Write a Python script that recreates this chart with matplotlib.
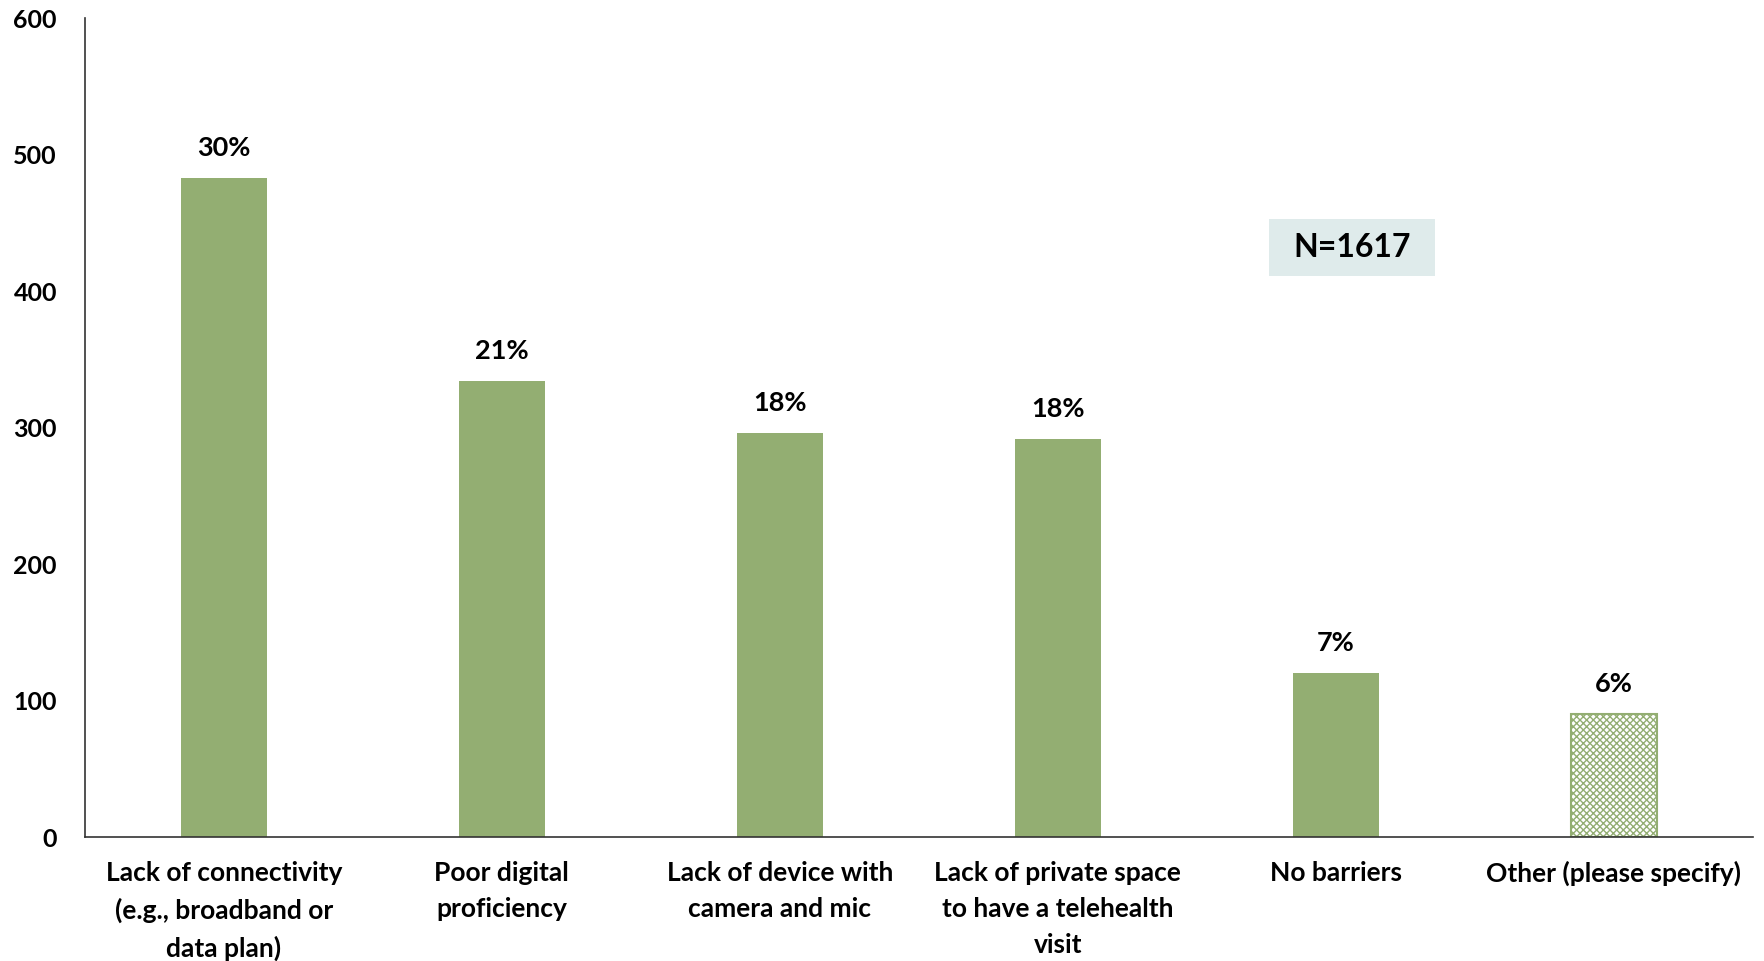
from matplotlib import pyplot as plt
from matplotlib.patches import Rectangle

categories = [
    "Lack of connectivity\n(e.g., broadband or\ndata plan)",
    "Poor digital\nproficiency",
    "Lack of device with\ncamera and mic",
    "Lack of private space\nto have a telehealth\nvisit",
    "No barriers",
    "Other (please specify)",
]
counts = [483, 334, 296, 292, 120, 90]
pct_labels = ["30%", "21%", "18%", "18%", "7%", "6%"]
yticks = [0, 100, 200, 300, 400, 500, 600]

GREEN = "#93ae72"

plt.rcParams["font.family"] = ["Lato", "DejaVu Sans"]
plt.rcParams["hatch.linewidth"] = 1.0

fig = plt.figure(figsize=(17.65, 9.61), dpi=100)
ax = fig.add_axes([0.048, 0.129, 0.945, 0.852])

x = list(range(len(categories)))
bars = ax.bar(x[:-1], counts[:-1], width=0.31, color=GREEN)
other = ax.bar(x[-1], counts[-1], width=0.31, color="white",
               edgecolor=GREEN, hatch="xxxxx", linewidth=1.5)

for xi, c, lab in zip(x, counts, pct_labels):
    ax.annotate(lab, (xi, c), xytext=(0, 13), textcoords="offset points",
                ha="center", va="bottom", fontsize=19.5, fontweight="bold")

ax.set_xlim(-0.5, 5.5)
ax.set_ylim(0, 600)
ax.set_yticks(yticks)
ax.set_yticklabels([str(t) for t in yticks], fontsize=18, fontweight="bold")
ax.set_xticks(x)
ax.set_xticklabels(categories, fontsize=19, fontweight="bold",
                   linespacing=1.6)
ax.tick_params(axis="both", length=0)
ax.tick_params(axis="y", pad=20)
ax.tick_params(axis="x", pad=17)

for s in ["top", "right"]:
    ax.spines[s].set_visible(False)
for s in ["left", "bottom"]:
    ax.spines[s].set_color("#333333")
    ax.spines[s].set_linewidth(1.2)

# N box
ax.add_patch(Rectangle((0.710, 0.685), 0.0995, 0.0696, transform=ax.transAxes,
                       facecolor="#dfebeb", edgecolor="none"))
ax.text(0.710 + 0.0995 / 2, 0.685 + 0.0696 / 2, "N=1617",
        transform=ax.transAxes, ha="center", va="center",
        fontsize=23, fontweight="bold")

fig.savefig("out.png", dpi=100)
